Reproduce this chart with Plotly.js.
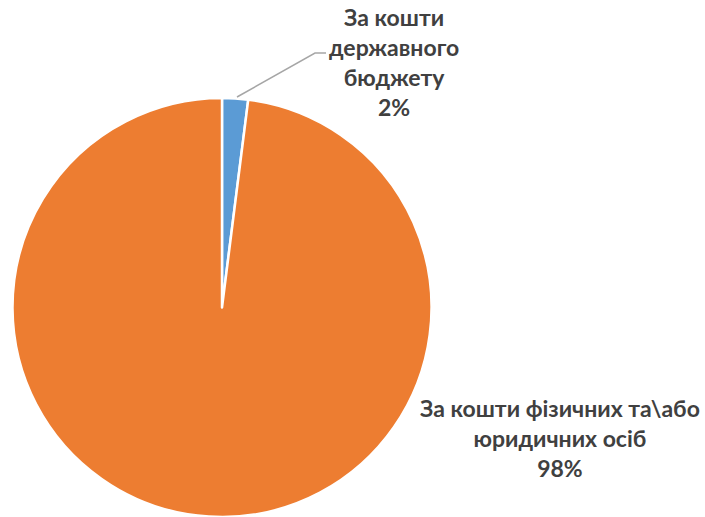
<!DOCTYPE html>
<html>
<head>
<meta charset="utf-8">
<script src="https://cdn.plot.ly/plotly-3.0.1.min.js"></script>
<style>html,body{margin:0;padding:0;background:#fff}#chart{width:705px;height:517px}</style>
</head>
<body>
<div id="chart"></div>
<script>
var categories = ["За кошти державного бюджету", "За кошти фізичних та\\або юридичних осіб"];
var values = [2, 98];
var labelTexts = ["За кошти<br>державного<br>бюджету<br>2%", "За кошти фізичних та\\або<br>юридичних осіб<br>98%"];
var colors = ["#5B9BD5", "#ED7D31"];

var W = 705, H = 517;
var cx = 222, cy = 308, R = 210;

var trace = {
  type: "pie",
  labels: categories,
  values: values,
  sort: false,
  direction: "clockwise",
  rotation: 0,
  textinfo: "none",
  hoverinfo: "label+percent",
  marker: {colors: colors, line: {color: "#ffffff", width: 2.5}},
  domain: {x: [(cx - R) / W, (cx + R) / W], y: [0, 1 - (cy - R) / H]},
  showlegend: false
};

var font = {family: "Lato, 'Open Sans', sans-serif", size: 23, color: "#404040", weight: "bold"};
function px(x) { return x / W; }
function py(y) { return 1 - y / H; }

var layout = {
  width: W, height: H,
  margin: {l: 0, r: 0, t: 0, b: 0},
  paper_bgcolor: "#ffffff",
  showlegend: false,
  annotations: [
    {xref: "paper", yref: "paper", x: px(394), y: py(62), text: "<b>" + labelTexts[0] + "</b>", showarrow: false, font: font, align: "center", xanchor: "center", yanchor: "middle"},
    {xref: "paper", yref: "paper", x: px(560), y: py(438), text: "<b>" + labelTexts[1] + "</b>", showarrow: false, font: font, align: "center", xanchor: "center", yanchor: "middle"}
  ],
  shapes: [
    {type: "path", xref: "paper", yref: "paper",
     path: "M " + px(237) + "," + py(97) + " L " + px(315) + "," + py(53) + " L " + px(326) + "," + py(53),
     line: {color: "#A6A6A6", width: 1.5}}
  ]
};

Plotly.newPlot("chart", [trace], layout, {displayModeBar: false, staticPlot: true});
</script>
</body>
</html>
